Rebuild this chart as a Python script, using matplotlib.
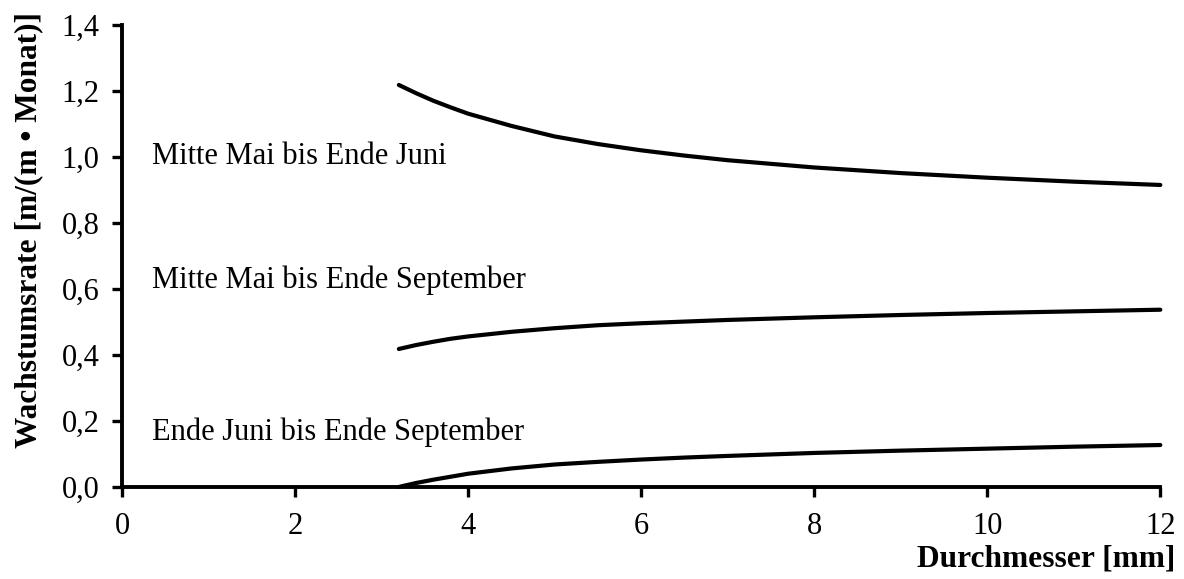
import matplotlib
matplotlib.use("Agg")
import matplotlib.pyplot as plt

plt.rcParams['font.family'] = ['Liberation Serif', 'DejaVu Serif']

# diameter [mm] and growth rates
diameter = [3.2, 3.4, 3.6, 3.8, 4.0, 4.5, 5.0, 5.5, 6.0, 6.5, 7.0, 8.0, 9.0, 10.0, 11.0, 12.0]
mai_juni = [1.218, 1.193, 1.170, 1.150, 1.131, 1.094, 1.062, 1.039, 1.020, 1.004, 0.990,
            0.968, 0.951, 0.937, 0.925, 0.915]
mai_sept = [0.418, 0.430, 0.440, 0.449, 0.456, 0.470, 0.481, 0.490, 0.496, 0.501, 0.506,
            0.514, 0.521, 0.527, 0.532, 0.537]
juni_sept = [0.0, 0.012, 0.022, 0.031, 0.040, 0.056, 0.068, 0.076, 0.083, 0.089, 0.094,
             0.103, 0.110, 0.116, 0.122, 0.127]

series = [
    (mai_juni, "Mitte Mai bis Ende Juni", 0.98),
    (mai_sept, "Mitte Mai bis Ende September", 0.604),
    (juni_sept, "Ende Juni bis Ende September", 0.143),
]

x_ticks = [0, 2, 4, 6, 8, 10, 12]
y_ticks = [0.0, 0.2, 0.4, 0.6, 0.8, 1.0, 1.2, 1.4]
y_labels = ["0,0", "0,2", "0,4", "0,6", "0,8", "1,0", "1,2", "1,4"]

fig = plt.figure(figsize=(11.84, 5.79), dpi=100)
ax = fig.add_axes([0.103, 0.159, 0.877, 0.798])

for values, label, label_y in series:
    ax.plot(diameter, values, color="black", lw=3.0, solid_capstyle="round",
            solid_joinstyle="round", clip_on=False)
    ax.text(0.35, label_y, label, fontsize=22, ha="left", va="baseline")

ax.set_xlim(0, 12)
ax.set_ylim(0, 1.4)
ax.set_xticks(x_ticks)
ax.set_xticklabels([str(t) for t in x_ticks])
ax.set_yticks(y_ticks)
ax.set_yticklabels(y_labels)

for side in ("top", "right"):
    ax.spines[side].set_visible(False)
for side in ("left", "bottom"):
    ax.spines[side].set_linewidth(2.8)

ax.tick_params(axis="both", direction="out", length=7, width=2.4, labelsize=22)
ax.tick_params(axis="x", pad=11)
ax.tick_params(axis="y", pad=9)

fig.text(0.0245, 0.603, "Wachstumsrate [m/(m • Monat)]", fontsize=22.6, fontweight="bold",
         rotation=90, ha="center", va="center")
fig.text(0.993, 0.021, "Durchmesser [mm]", fontsize=22.6, fontweight="bold",
         ha="right", va="baseline")

fig.savefig("out.png", dpi=100, facecolor="white")
